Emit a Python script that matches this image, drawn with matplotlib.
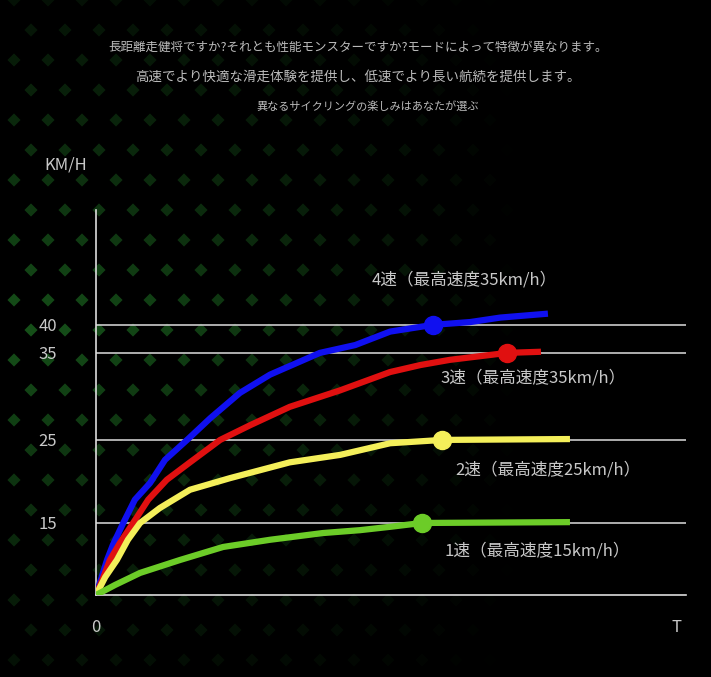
import numpy as np
import matplotlib.pyplot as plt
from matplotlib.scale import FuncScale

plt.rcParams["font.family"] = "Noto Sans CJK JP"

# axis ticks (speed) and where they sit on the drawn axis (non-linear)
tick_values = [0, 15, 25, 35, 40]
tick_heights = [0, 72, 155, 242, 270]

# curves: time (T in %) and speed (km/h)
blue_t = [0, 1.9, 2.9, 4.7, 6.7, 9.3, 11.9, 15.7, 19.7, 24.8, 30.0, 38.6, 44.7, 50.7, 58.1, 64.5, 69.7, 77.9]
blue_v = [0, 7.3, 10.4, 15.0, 17.8, 19.8, 22.6, 25.0, 27.5, 30.4, 32.5, 35.0, 36.4, 38.8, 40.0, 40.5, 41.3, 42.0]
red_t = [0, 1.2, 2.4, 4.1, 6.4, 9.0, 12.2, 16.2, 21.4, 26.6, 33.4, 42.1, 50.7, 55.9, 61.0, 70.9, 76.7]
red_v = [0, 3.5, 7.3, 10.8, 15.0, 17.8, 20.2, 22.3, 25.0, 26.7, 28.8, 30.7, 32.8, 33.6, 34.2, 35.0, 35.2]
yellow_t = [0, 1.6, 3.6, 5.5, 7.6, 11.0, 16.2, 23.1, 33.4, 42.1, 50.7, 59.7, 81.7]
yellow_v = [0, 3.75, 7.3, 11.5, 15.0, 16.8, 19.0, 20.4, 22.3, 23.2, 24.6, 25.0, 25.1]
green_t = [0, 3.3, 7.6, 14.5, 21.9, 30.0, 39.1, 45.5, 50.7, 56.2, 81.7]
green_v = [0, 2.1, 4.6, 7.3, 10.0, 11.5, 12.9, 13.5, 14.2, 15.0, 15.1]

# T where the marker dot sits on each curve
dot_t = [58.1, 70.9, 59.7, 56.2]

labels = ["4速（最高速度35km/h）", "3速（最高速度35km/h）",
          "2速（最高速度25km/h）", "1速（最高速度15km/h）"]

header = ["長距離走健将ですか?それとも性能モンスターですか?モードによって特徴が異なります。",
          "高速でより快適な滑走体験を提供し、低速でより長い航続を提供します。",
          "異なるサイクリングの楽しみはあなたが選ぶ"]


def fwd(v):
    v = np.asarray(v, dtype=float)
    h = np.interp(v, tick_values, tick_heights)
    return np.where(v > 40, 270 + (v - 40) * 28 / 5, h)


def inv(h):
    h = np.asarray(h, dtype=float)
    v = np.interp(h, tick_heights, tick_values)
    return np.where(h > 270, 40 + (h - 270) * 5 / 28, v)


fig = plt.figure(figsize=(7.11, 6.77), dpi=100, facecolor="black")

# faint green dotted backdrop
bg = fig.add_axes([0, 0, 1, 1])
bg.set_xlim(0, 711)
bg.set_ylim(677, 0)
bg.axis("off")
gx, gy = np.meshgrid(np.arange(-20, 720, 34), np.arange(0, 700, 30))
gx = gx + (np.arange(gy.shape[0])[:, None] % 2) * 17
fade = np.clip(1 - (gx / 520) ** 1.5, 0, 1) * np.clip(1 - np.abs(gy - 330) / 420, 0, 1)
dots = bg.scatter(gx.ravel(), gy.ravel(), s=45, marker="D", linewidths=0)
dots.set_facecolors([(0.12, 0.45, 0.14, a * 0.7) for a in fade.ravel()])

ax = fig.add_axes([96 / 711, 82 / 677, 590 / 711, 385 / 677])
ax.set_facecolor("none")
ax.set_yscale(FuncScale(ax, (fwd, inv)))
ax.set_xlim(0, 101.7)
ax.set_ylim(0, 60.5)

for v in tick_values[1:]:
    ax.axhline(v, color="#cccccc", lw=1.2, zorder=1)

series = [
    (blue_t, blue_v, "#1010f0"),
    (red_t, red_v, "#e01010"),
    (yellow_t, yellow_v, "#f4ef5a"),
    (green_t, green_v, "#6ccc28"),
]
for (t, v, c), d in zip(series, dot_t):
    ax.plot(t, v, color=c, lw=4.5, solid_capstyle="butt",
            solid_joinstyle="round", zorder=3)
    i = t.index(d)
    ax.plot(t[i], v[i], "o", color=c, ms=13, zorder=4)

grey = "#c8c8c8"
ax.text(63.5, 48, labels[0], color=grey, fontsize=12, ha="center", va="center")
ax.text(75.3, 32.1, labels[1], color=grey, fontsize=12, ha="center", va="center")
ax.text(77.9, 21.4, labels[2], color=grey, fontsize=12, ha="center", va="center")
ax.text(76.0, 9.2, labels[3], color=grey, fontsize=12, ha="center", va="center")

for s in ["top", "right"]:
    ax.spines[s].set_visible(False)
for s in ["left", "bottom"]:
    ax.spines[s].set_color("#dddddd")
    ax.spines[s].set_linewidth(1.2)

ax.set_yticks(tick_values[1:])
ax.set_yticklabels([str(v) for v in tick_values[1:]])
ax.set_yticks([], minor=True)
ax.tick_params(axis="y", length=0, pad=28, colors=grey, labelsize=12)
ax.set_xticks([])

fig.text(96 / 711, 1 - 628 / 677, "0", color=grey, fontsize=12, ha="center", va="center")
fig.text(676 / 711, 1 - 628 / 677, "T", color=grey, fontsize=12, ha="center", va="center")
fig.text(66 / 711, 1 - 165 / 677, "KM/H", color=grey, fontsize=12, ha="center", va="center")

fig.text(358 / 711, 1 - 47 / 677, header[0], color="#bbbbbb", fontsize=9, ha="center", va="center")
fig.text(358 / 711, 1 - 77 / 677, header[1], color="#bbbbbb", fontsize=9.7, ha="center", va="center")
fig.text(368 / 711, 1 - 106 / 677, header[2], color="#bbbbbb", fontsize=8, ha="center", va="center")

fig.savefig("out.png", dpi=100, facecolor="black")
